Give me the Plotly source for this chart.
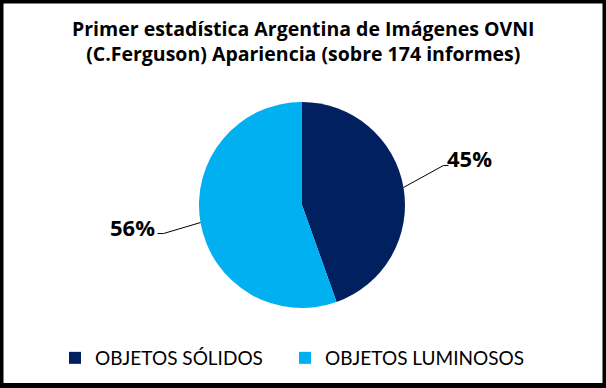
import math
import plotly.graph_objects as go

# ---- data ----
categories = ["OBJETOS SÓLIDOS", "OBJETOS LUMINOSOS"]
values = [45, 56]
value_labels = ["45%", "56%"]
colors = ["#002060", "#00B0F0"]
title_lines = ["Primer estadística Argentina de Imágenes OVNI",
               "(C.Ferguson) Apariencia (sobre 174 informes)"]

W, H = 606, 388
FONT = "Open Sans"

# pie geometry (pixels)
cx, cy, r = 302, 205, 103

fig = go.Figure()
fig.add_trace(go.Pie(
    labels=categories, values=values,
    marker=dict(colors=colors, line=dict(width=0)),
    sort=False, direction="clockwise", rotation=0,
    textinfo="none", hoverinfo="label+percent",
    domain=dict(x=[(cx - r) / W, (cx + r) / W], y=[1 - (cy + r) / H, 1 - (cy - r) / H]),
))

def px2paper(x, y):
    return x / W, 1 - y / H

# leader lines + labels computed from the slice mid-angles
total = sum(values)
label_offsets = [  # (elbow dx, elbow dy, end dx, text shift) in pixels, style only
    (40, -22, 5, -3),
    (-37, 11, -6, -1),
]
shapes = []
annotations = []
cum = 0
for v, lab, (ex, ey, hx, ts) in zip(values, value_labels, label_offsets):
    mid = (cum + v / 2) / total * 2 * math.pi
    cum += v
    sx = cx + r * math.sin(mid)
    sy = cy - r * math.cos(mid)
    bx, by = sx + ex, sy + ey
    tx, ty = bx + hx, by
    p = [px2paper(sx, sy), px2paper(bx, by), px2paper(tx, ty)]
    shapes.append(dict(type="path", xref="paper", yref="paper",
                       path="M {} {} L {} {} L {} {}".format(p[0][0], p[0][1], p[1][0], p[1][1], p[2][0], p[2][1]),
                       line=dict(color="black", width=1)))
    ax, ay = px2paper(tx + ts, ty - 7)
    annotations.append(dict(x=ax, y=ay, xref="paper", yref="paper", text="<b>%s</b>" % lab,
                            showarrow=False, xanchor="left" if hx > 0 else "right", yanchor="middle",
                            font=dict(family=FONT, size=22, color="black")))

# two-line title
annotations.append(dict(x=0.5, y=1 - 41 / H, xref="paper", yref="paper",
                        text="<b>" + "<br>".join(title_lines) + "</b>",
                        showarrow=False, xanchor="center", yanchor="middle",
                        font=dict(family=FONT, size=19.5, color="black")))

# outer frame
shapes.append(dict(type="rect", xref="paper", yref="paper", x0=0, y0=0, x1=1, y1=1,
                   line=dict(color="black", width=7)))
shapes.append(dict(type="line", xref="paper", yref="paper", x0=0, y0=0, x1=1, y1=0,
                   line=dict(color="black", width=10)))

fig.update_layout(
    width=W, height=H,
    margin=dict(l=0, r=0, t=0, b=0),
    paper_bgcolor="white", plot_bgcolor="white",
    showlegend=True,
    legend=dict(orientation="h", x=55 / W, xanchor="left", y=1 - 358 / H, yanchor="middle",
                font=dict(family="Lato", size=19, color="black"), itemwidth=30,
                entrywidth=185, entrywidthmode="pixels",
                bgcolor="rgba(0,0,0,0)", traceorder="normal"),
    shapes=shapes, annotations=annotations,
)

post = ("document.body.style.margin='0';"
        "var gd=document.getElementById('{plot_id}');"
        "gd.querySelectorAll('.legend .scrollbox').forEach(function(e){e.removeAttribute('clip-path');});")
fig.write_html("out.html", post_script=post, config={"displayModeBar": False})
